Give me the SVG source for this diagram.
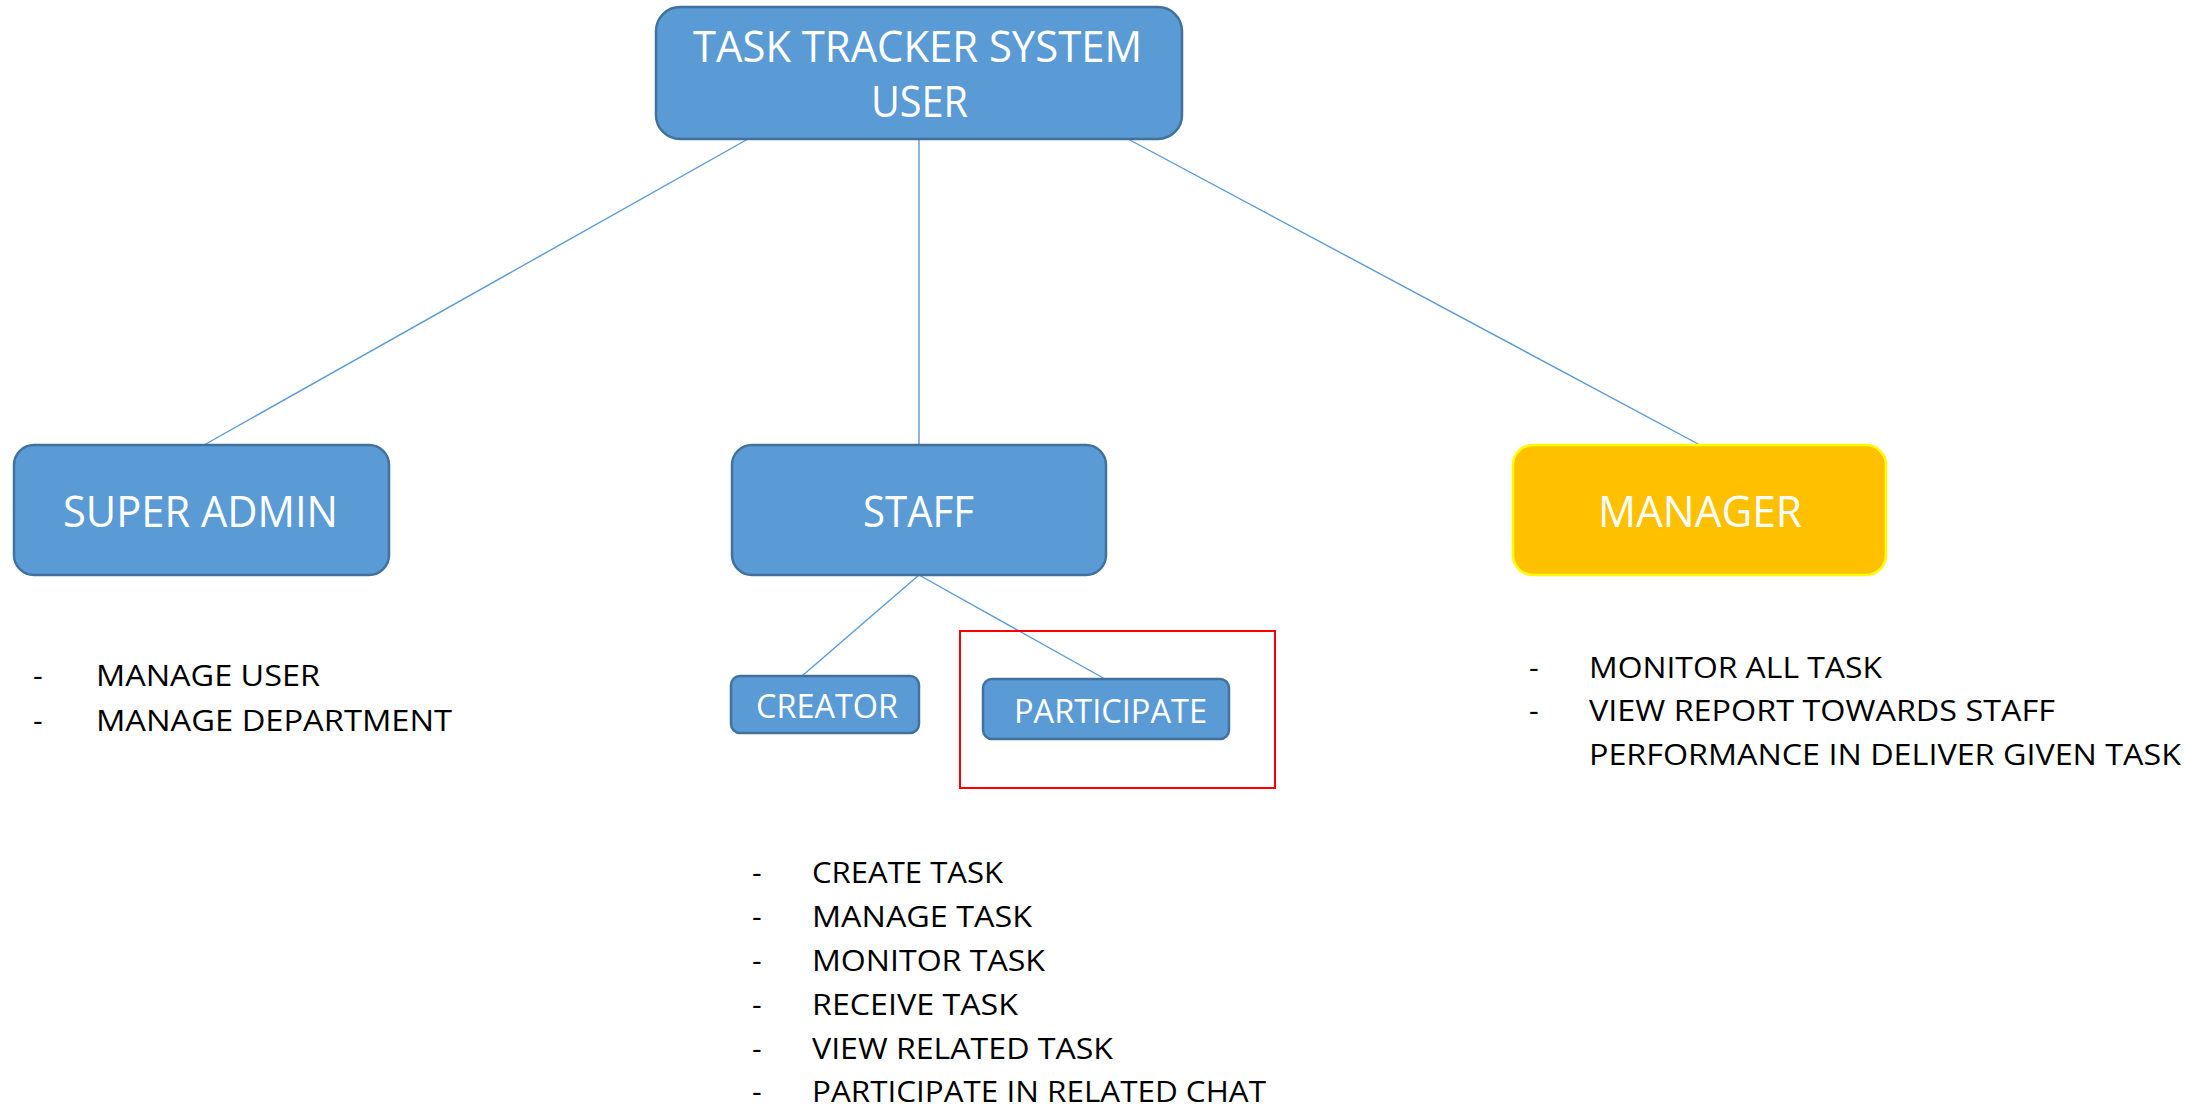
<svg xmlns="http://www.w3.org/2000/svg" width="2203" height="1110" viewBox="0 0 2203 1110">
<style>
.box{fill:#5B9BD5;stroke:#41719C;stroke-width:2.5}
.mgr{fill:#FFC000;stroke:#FFFF00;stroke-width:2.5}
.lbl{font-family:"Open Sans","Liberation Sans",sans-serif;fill:#FFFFFF}
.big{font-size:43px}
.small{font-size:33px}
.lst{font-family:"Open Sans","Liberation Sans",sans-serif;font-size:30px;fill:#000000}
.conn{stroke:#5B9BD5;stroke-width:1.4;fill:none}
</style>
<rect width="2203" height="1110" fill="#FFFFFF"/>
<g id="connectors">
<line class="conn" x1="748" y1="139" x2="204" y2="445"/>
<line class="conn" x1="919" y1="139" x2="919" y2="445"/>
<line class="conn" x1="1128" y1="139" x2="1700" y2="445"/>
<line class="conn" x1="919" y1="575" x2="802" y2="676"/>
<line class="conn" x1="919" y1="575" x2="1105" y2="679"/>
</g>
<g id="root">
<rect class="box" x="656" y="7" width="526" height="132" rx="24"/>
<text class="lbl big" x="693" y="62" textLength="449" lengthAdjust="spacingAndGlyphs">TASK TRACKER SYSTEM</text>
<text class="lbl big" x="871" y="117" textLength="97" lengthAdjust="spacingAndGlyphs">USER</text>
</g>
<g id="superadmin">
<rect class="box" x="14" y="445" width="375" height="130" rx="20"/>
<text class="lbl big" x="63" y="527" textLength="275" lengthAdjust="spacingAndGlyphs">SUPER ADMIN</text>
</g>
<g id="staff">
<rect class="box" x="732" y="445" width="374" height="130" rx="20"/>
<text class="lbl big" x="863" y="527" textLength="111" lengthAdjust="spacingAndGlyphs">STAFF</text>
</g>
<g id="manager">
<rect class="mgr" x="1513" y="445" width="373" height="130" rx="20"/>
<text class="lbl big" x="1598" y="527" textLength="204" lengthAdjust="spacingAndGlyphs">MANAGER</text>
</g>
<g id="creator">
<rect class="box" x="731" y="676" width="188" height="57" rx="9"/>
<text class="lbl small" x="756" y="718" textLength="142" lengthAdjust="spacingAndGlyphs">CREATOR</text>
</g>
<g id="participate">
<rect class="box" x="983" y="679" width="246" height="60" rx="9"/>
<text class="lbl small" x="1014" y="723" textLength="193" lengthAdjust="spacingAndGlyphs">PARTICIPATE</text>
</g>
<g id="highlight">
<rect x="960" y="631" width="315" height="157" fill="none" stroke="#FF0000" stroke-width="2"/>
</g>
<g id="superadmin-list">
<text class="lst" x="33" y="686">-</text>
<text class="lst" x="96" y="686" textLength="224" lengthAdjust="spacingAndGlyphs">MANAGE USER</text>
<text class="lst" x="33" y="731">-</text>
<text class="lst" x="96" y="731" textLength="356" lengthAdjust="spacingAndGlyphs">MANAGE DEPARTMENT</text>
</g>
<g id="staff-list">
<text class="lst" x="752" y="883">-</text>
<text class="lst" x="812" y="883" textLength="191" lengthAdjust="spacingAndGlyphs">CREATE TASK</text>
<text class="lst" x="752" y="927">-</text>
<text class="lst" x="812" y="927" textLength="220" lengthAdjust="spacingAndGlyphs">MANAGE TASK</text>
<text class="lst" x="752" y="971">-</text>
<text class="lst" x="812" y="971" textLength="233" lengthAdjust="spacingAndGlyphs">MONITOR TASK</text>
<text class="lst" x="752" y="1015">-</text>
<text class="lst" x="812" y="1015" textLength="206" lengthAdjust="spacingAndGlyphs">RECEIVE TASK</text>
<text class="lst" x="752" y="1059">-</text>
<text class="lst" x="812" y="1059" textLength="301" lengthAdjust="spacingAndGlyphs">VIEW RELATED TASK</text>
<text class="lst" x="752" y="1102">-</text>
<text class="lst" x="812" y="1102" textLength="454" lengthAdjust="spacingAndGlyphs">PARTICIPATE IN RELATED CHAT</text>
</g>
<g id="manager-list">
<text class="lst" x="1529" y="678">-</text>
<text class="lst" x="1589" y="678" textLength="293" lengthAdjust="spacingAndGlyphs">MONITOR ALL TASK</text>
<text class="lst" x="1529" y="721">-</text>
<text class="lst" x="1589" y="721" textLength="466" lengthAdjust="spacingAndGlyphs">VIEW REPORT TOWARDS STAFF</text>
<text class="lst" x="1589" y="765" textLength="592" lengthAdjust="spacingAndGlyphs">PERFORMANCE IN DELIVER GIVEN TASK</text>
</g>
</svg>
